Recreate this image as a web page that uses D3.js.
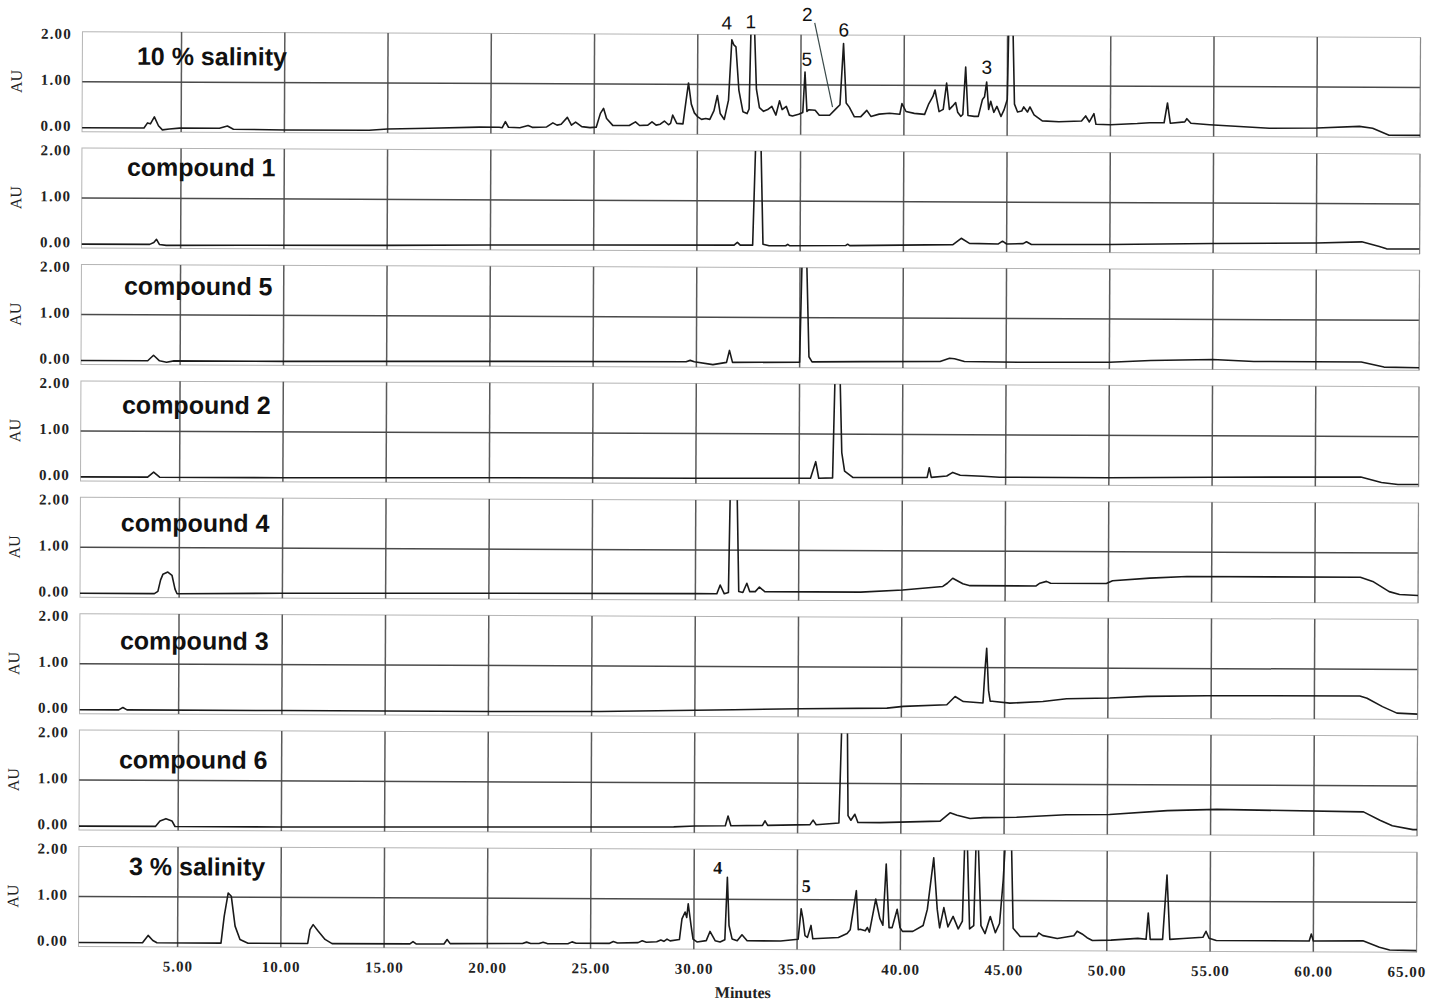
<!DOCTYPE html>
<html><head><meta charset="utf-8">
<script src="https://cdn.jsdelivr.net/npm/d3@7"></script>
<style>body{margin:0;background:#fff}svg{display:block}</style>
</head><body>
<svg id="chart" width="1434" height="1000"></svg>
<script>
// ---------------- data ----------------
const panelNames = ["10 % salinity","compound 1","compound 5","compound 2","compound 4","compound 3","compound 6","3 % salinity"];
const tickMinutes = [5,10,15,20,25,30,35,40,45,50,55,60,65];
const auTicks = [0,1,2];
const xTitle = "Minutes";
const yTitle = "AU";

const sal10 = [[0.2,0],[3.2,0],[3.37,0.11],[3.51,0.09],[3.7,0.24],[3.9,0.05],[4.09,-0.04],[4.43,-0.02],[4.92,0],[6.85,0],[7.24,0.05],[7.53,-0.02],[10,-0.03],[14.1,-0.03],[15,0.0],[17,0.02],[19.44,0.05],[20.4,0.05],[20.55,0.04],[20.7,0.17],[20.85,0.05],[21.4,0.04],[21.8,0.09],[22.0,0.05],[22.7,0.06],[23.0,0.15],[23.2,0.1],[23.4,0.12],[23.7,0.27],[23.9,0.1],[24.1,0.17],[24.4,0.07],[24.8,0.05],[25.1,0.06],[25.3,0.36],[25.45,0.47],[25.6,0.25],[25.9,0.1],[26.7,0.1],[27.0,0.18],[27.2,0.1],[27.6,0.11],[27.8,0.18],[28.0,0.11],[28.2,0.13],[28.4,0.2],[28.6,0.12],[28.7,0.15],[28.8,0.33],[29.0,0.15],[29.3,0.14],[29.45,0.66],[29.56,1.03],[29.7,0.57],[29.85,0.38],[30.0,0.3],[30.2,0.24],[30.4,0.26],[30.6,0.24],[30.8,0.43],[30.96,0.76],[31.1,0.37],[31.3,0.24],[31.5,0.66],[31.65,1.97],[31.75,1.86],[31.85,1.82],[32.0,0.88],[32.2,0.41],[32.4,0.37],[32.5,0.47],[32.58,2.3],[32.74,2.3],[32.85,0.9],[33.0,0.5],[33.2,0.42],[33.4,0.46],[33.6,0.53],[33.8,0.34],[33.97,0.65],[34.1,0.46],[34.3,0.53],[34.45,0.34],[34.6,0.32],[34.9,0.36],[35.1,0.4],[35.2,1.28],[35.3,0.42],[35.4,0.46],[35.7,0.45],[35.9,0.34],[36.4,0.34],[36.7,0.48],[36.9,0.57],[37.06,1.9],[37.2,0.61],[37.35,0.52],[37.6,0.31],[37.9,0.31],[38.2,0.45],[38.4,0.32],[38.8,0.37],[39.3,0.39],[39.8,0.37],[39.9,0.6],[40.1,0.43],[40.5,0.39],[41.0,0.37],[41.2,0.6],[41.4,0.76],[41.5,0.9],[41.7,0.43],[41.9,0.48],[42.06,1.05],[42.2,0.48],[42.35,0.55],[42.5,0.63],[42.6,0.42],[42.75,0.33],[42.85,0.37],[42.98,1.4],[43.1,0.35],[43.4,0.33],[43.6,0.33],[43.8,0.7],[43.9,0.76],[44.0,1.08],[44.1,0.48],[44.2,0.66],[44.35,0.42],[44.5,0.55],[44.7,0.33],[44.85,0.48],[45.0,0.7],[45.06,2.3],[45.26,2.3],[45.35,0.6],[45.5,0.43],[45.7,0.45],[45.8,0.54],[45.98,0.43],[46.1,0.54],[46.3,0.37],[46.7,0.24],[47.5,0.22],[48.6,0.24],[48.8,0.35],[48.98,0.22],[49.2,0.4],[49.3,0.17],[50.0,0.16],[51.3,0.19],[51.9,0.21],[52.6,0.21],[52.76,0.64],[52.9,0.2],[53.6,0.23],[53.7,0.3],[53.9,0.2],[54.8,0.17],[57.7,0.1],[60,0.11],[62.06,0.15],[62.7,0.11],[63.5,-0.04],[65,-0.04]];

const comp1 = [[0.2,0],[3.5,0],[3.7,0.04],[3.83,0.11],[3.97,0.0],[4.3,-0.02],[8,-0.01],[15,0.0],[20,0.02],[25,0.03],[31.8,0.04],[31.96,0.1],[32.1,0.04],[32.7,0.04],[32.83,2.3],[33.08,2.3],[33.2,0.06],[33.5,0.03],[34.3,0.03],[34.4,0.06],[34.5,0.03],[37.2,0.04],[37.3,0.07],[37.4,0.04],[42.4,0.07],[42.8,0.21],[43.2,0.1],[44.6,0.09],[44.8,0.15],[45.0,0.09],[45.8,0.1],[45.96,0.14],[46.2,0.08],[50,0.09],[55,0.12],[60,0.14],[62.2,0.17],[63.05,0.07],[63.4,0.02],[65,0.02]];

const comp5 = [[0.2,0],[3.43,0],[3.71,0.12],[4.0,0.0],[4.34,-0.03],[4.7,0.0],[10,0.0],[20,0.02],[29.5,0.03],[29.7,0.06],[29.9,0.03],[30.8,-0.03],[31.46,0.02],[31.6,0.28],[31.75,0.02],[35.0,0.03],[35.1,2.3],[35.32,2.3],[35.45,0.15],[35.6,0.04],[38,0.05],[41.8,0.06],[42.26,0.13],[42.5,0.12],[42.98,0.06],[45.8,0.05],[50,0.06],[52,0.1],[55,0.13],[57,0.09],[62.2,0.09],[63.3,-0.02],[65,-0.03]];

const comp2 = [[0.2,0],[3.45,0],[3.74,0.11],[4.03,0],[10,0.0],[20,0.02],[30,0.03],[35.55,0.04],[35.8,0.4],[35.95,0.04],[36.62,0.05],[36.72,2.3],[36.96,2.3],[37.06,0.6],[37.2,0.2],[37.6,0.06],[41.2,0.07],[41.3,0.28],[41.4,0.07],[42.15,0.1],[42.44,0.18],[42.8,0.12],[43.9,0.1],[44.7,0.08],[50,0.08],[55,0.1],[62.2,0.12],[63.2,0.0],[64,-0.04],[65,-0.04]];

const comp4 = [[0.2,0],[3.8,0],[3.97,0.05],[4.1,0.3],[4.21,0.42],[4.45,0.47],[4.65,0.4],[4.8,0.1],[4.9,0],[10,0.02],[20,0.04],[30,0.05],[31.04,0.05],[31.2,0.24],[31.4,0.05],[31.6,0.08],[31.67,2.3],[32.0,2.3],[32.1,0.1],[32.3,0.08],[32.49,0.28],[32.63,0.1],[32.9,0.1],[33.1,0.2],[33.36,0.1],[38,0.1],[40.04,0.15],[41.98,0.23],[42.2,0.3],[42.46,0.41],[42.95,0.29],[43.3,0.25],[46.5,0.25],[46.68,0.31],[47.0,0.35],[47.2,0.31],[49.9,0.31],[50.2,0.37],[52.0,0.43],[53.8,0.47],[62.2,0.47],[62.8,0.38],[63.6,0.16],[64.1,0.1],[65,0.08]];

const comp3 = [[0.2,0],[2.1,0],[2.3,0.05],[2.5,0],[10,0.0],[20,0.0],[25.4,0.01],[31.9,0.06],[35.1,0.09],[39.3,0.11],[40.1,0.15],[42.2,0.19],[42.6,0.37],[43.0,0.26],[43.95,0.23],[44.05,1.0],[44.12,1.42],[44.22,0.5],[44.3,0.27],[44.4,0.27],[45.25,0.23],[46.85,0.27],[48.0,0.33],[50.1,0.35],[51.9,0.39],[54.8,0.41],[62.2,0.42],[62.55,0.37],[63.3,0.19],[64.0,0.05],[65,0.03]];

const comp6 = [[0.2,0],[3.9,0],[4.12,0.12],[4.41,0.17],[4.7,0.12],[4.85,0],[10,0.0],[20,0.02],[29,0.04],[30.03,0.06],[31.5,0.07],[31.63,0.28],[31.77,0.07],[33.3,0.08],[33.42,0.18],[33.55,0.08],[35.6,0.1],[35.75,0.2],[35.9,0.1],[37.0,0.14],[37.12,2.3],[37.39,2.3],[37.44,0.3],[37.58,0.2],[37.77,0.33],[37.92,0.15],[38.99,0.15],[41.9,0.19],[42.38,0.37],[42.72,0.32],[43.35,0.25],[44.0,0.27],[45.6,0.28],[48.0,0.34],[50.1,0.35],[52.9,0.44],[55.3,0.47],[62.4,0.43],[63.2,0.25],[63.8,0.13],[64.8,0.05],[65,0.05]];

const sal3 = [[0.2,0],[3.3,0],[3.57,0.16],[3.8,0.05],[4.0,0],[7.1,0],[7.25,0.58],[7.44,1.09],[7.59,1.02],[7.78,0.37],[8.02,0.08],[8.41,0],[11.3,0],[11.41,0.3],[11.56,0.41],[11.8,0.27],[12.14,0.09],[12.48,0],[16.25,0],[16.4,0.05],[16.55,0],[17.9,0.0],[18.05,0.1],[18.2,0.01],[21.7,0.02],[21.9,0.05],[22.1,0.02],[22.5,0.02],[22.7,0.05],[22.9,0.02],[23.9,0.02],[24.1,0.06],[24.3,0.03],[25.9,0.03],[26.1,0.07],[26.3,0.04],[27.3,0.05],[27.5,0.09],[27.7,0.06],[28.2,0.07],[28.4,0.11],[28.55,0.08],[28.7,0.13],[28.85,0.09],[29.3,0.12],[29.42,0.57],[29.57,0.72],[29.65,0.6],[29.72,0.9],[29.86,0.43],[29.96,0.13],[30.15,0.07],[30.6,0.1],[30.78,0.3],[31.03,0.1],[31.27,0.07],[31.5,0.12],[31.61,1.48],[31.7,0.43],[31.85,0.14],[32.1,0.1],[32.33,0.23],[32.58,0.1],[34.2,0.1],[35.05,0.14],[35.19,0.8],[35.28,0.58],[35.38,0.22],[35.5,0.18],[35.67,0.44],[35.76,0.15],[37.0,0.18],[37.42,0.27],[37.57,0.35],[37.86,1.2],[37.96,0.35],[38.05,0.36],[38.3,0.33],[38.4,0.4],[38.5,0.3],[38.8,1.02],[39.0,0.6],[39.15,0.45],[39.3,1.78],[39.45,0.4],[39.6,0.4],[39.84,0.8],[39.98,0.4],[40.1,0.32],[40.6,0.32],[41.1,0.45],[41.3,0.8],[41.6,1.92],[41.78,0.8],[41.9,0.4],[42.1,0.84],[42.3,0.42],[42.55,0.65],[42.8,0.38],[43.0,0.55],[43.1,2.3],[43.22,2.3],[43.35,0.38],[43.55,0.45],[43.65,2.3],[43.75,2.3],[43.9,0.45],[44.1,0.28],[44.35,0.65],[44.6,0.3],[44.8,0.5],[44.97,1.45],[45.07,2.3],[45.36,2.3],[45.46,0.4],[45.8,0.22],[46.6,0.22],[46.7,0.3],[46.9,0.24],[47.6,0.18],[48.4,0.24],[48.56,0.34],[48.8,0.28],[49.04,0.2],[49.3,0.14],[50.2,0.15],[51.5,0.19],[51.9,0.17],[52.0,0.74],[52.1,0.17],[52.7,0.17],[52.9,1.57],[53.05,0.17],[53.7,0.19],[54.65,0.22],[54.8,0.35],[54.95,0.2],[55.3,0.15],[59.8,0.15],[59.9,0.3],[60.0,0.15],[62.4,0.16],[63.2,0.02],[63.7,-0.04],[65,-0.05]];

const traces = [sal10, comp1, comp5, comp2, comp4, comp3, comp6, sal3];

// peak annotations: [panel index, label, minute, AU]
const peakLabels = [[0,"4",31.4,2.34],[0,"1",32.56,2.37],[0,"2",35.3,2.53],[0,"6",37.07,2.2],[0,"5",35.28,1.56],[0,"3",44.0,1.4],[7,"4",31.14,1.69],[7,"5",35.43,1.3]];
const leaderLine = [0, [35.66,2.35], [36.54,0.52]];

// ---------------- layout ----------------
const W = 1434, H = 1000;
const firstBase = 130.6, panelStep = 116.4, panelH = 96;
const tStart = 0.2, tEnd = 65;
const titleX = [135,125.5,123,121.6,121,120.6,120.1,130.6];
const titleDy = [24.4,18.9,21.4,23.9,25.4,26.9,29.4,19.9];
const serif = "'Liberation Serif','DejaVu Serif','Times New Roman',serif";
const sans = "'Liberation Sans',Arial,'Helvetica',sans-serif";

const svg = d3.select("#chart");
svg.append("rect").attr("width", W).attr("height", H).attr("fill", "#fff");
const root = svg.append("g").attr("transform", "rotate(0.25 750 500)");

const x = d3.scaleLinear().domain([0, 65]).range([76.3, 1418.5]);
const xl = x(tStart), xr = x(tEnd);
const line = d3.line();

traces.forEach((data, i) => {
  const yb = firstBase + panelStep * i;
  const y = d3.scaleLinear().domain([0, panelH / 46]).range([yb, yb - panelH]);
  const g = root.append("g");
  const top = y.range()[1], bot = yb + 4;

  // frame
  g.append("rect").attr("x", xl).attr("y", top).attr("width", xr - xl).attr("height", bot - top)
    .attr("fill", "none").attr("stroke", "#b4b4b4").attr("stroke-width", 1);
  // vertical grid
  g.selectAll(".vg").data(tickMinutes.filter(m => m < 65)).enter().append("line")
    .attr("x1", d => x(d)).attr("x2", d => x(d)).attr("y1", top).attr("y2", bot)
    .attr("stroke", "#5a5a5a").attr("stroke-width", 1.5);
  // horizontal mid grid at 1.00
  g.append("line").attr("x1", xl).attr("x2", xr).attr("y1", y(1)).attr("y2", y(1))
    .attr("stroke", "#4a4a4a").attr("stroke-width", 1.5);
  g.append("line").attr("x1", xr).attr("x2", xr).attr("y1", top).attr("y2", bot)
    .attr("stroke", "#8a8a8a").attr("stroke-width", 1.2);

  // clip
  const cid = "clip" + i;
  svg.append("defs").append("clipPath").attr("id", cid).append("rect")
    .attr("x", xl).attr("y", top).attr("width", xr - xl).attr("height", bot - top + 2);
  line.x(d => x(d[0])).y(d => y(d[1]));
  g.append("path").attr("d", line(data)).attr("clip-path", `url(#${cid})`)
    .attr("fill", "none").attr("stroke", "#1a1a1a").attr("stroke-width", 1.6)
    .attr("stroke-linejoin", "round");

  // y axis
  const ya = g.append("g").attr("transform", `translate(70,0)`)
    .call(d3.axisLeft(y).tickValues(auTicks).tickFormat(d3.format(".2f")).tickSize(0).tickPadding(0));
  ya.select(".domain").remove();
  ya.selectAll("text").attr("y", -2).attr("font-family", serif).attr("font-weight", "bold")
    .attr("font-size", 15).attr("letter-spacing", 1.2).attr("fill", "#222");

  // AU label
  g.append("text").attr("transform", `translate(20,${y(1)}) rotate(-90)`)
    .attr("text-anchor", "middle").attr("font-family", serif).attr("font-size", 16)
    .attr("fill", "#222").text(yTitle);

  // title
  g.append("text").attr("x", titleX[i]).attr("y", top + titleDy[i] + 8.5)
    .attr("font-family", sans).attr("font-weight", "bold").attr("font-size", 25)
    .attr("fill", "#111").text(panelNames[i]);

  // peak labels
  peakLabels.filter(p => p[0] === i).forEach(p => {
    g.append("text").attr("x", x(p[2])).attr("y", y(p[3])).attr("dy", "0.35em")
      .attr("text-anchor", "middle")
      .attr("font-family", i === 0 ? sans : serif).attr("font-weight", i === 0 ? "normal" : "bold")
      .attr("font-size", i === 0 ? 19 : 18).attr("fill", "#111").text(p[1]);
  });
  if (leaderLine[0] === i) {
    g.append("line").attr("x1", x(leaderLine[1][0])).attr("y1", y(leaderLine[1][1]))
      .attr("x2", x(leaderLine[2][0])).attr("y2", y(leaderLine[2][1]))
      .attr("stroke", "#3a4a4a").attr("stroke-width", 1.2);
  }

  // x axis on last panel
  if (i === traces.length - 1) {
    const xa = g.append("g").attr("transform", `translate(0,${bot})`)
      .call(d3.axisBottom(x).tickValues(tickMinutes).tickFormat(d3.format(".2f")).tickSize(0).tickPadding(14));
    xa.select(".domain").remove();
    xa.selectAll("text").attr("font-family", serif).attr("font-weight", "bold")
      .attr("font-size", 15).attr("letter-spacing", 1).attr("fill", "#222")
      .attr("dx", d => d === 65 ? -10 : 0);
    g.append("text").attr("x", 745).attr("y", 998).attr("text-anchor", "middle")
      .attr("font-family", serif).attr("font-weight", "bold").attr("font-size", 16)
      .attr("fill", "#222").text(xTitle);
  }
});
</script>
</body></html>
